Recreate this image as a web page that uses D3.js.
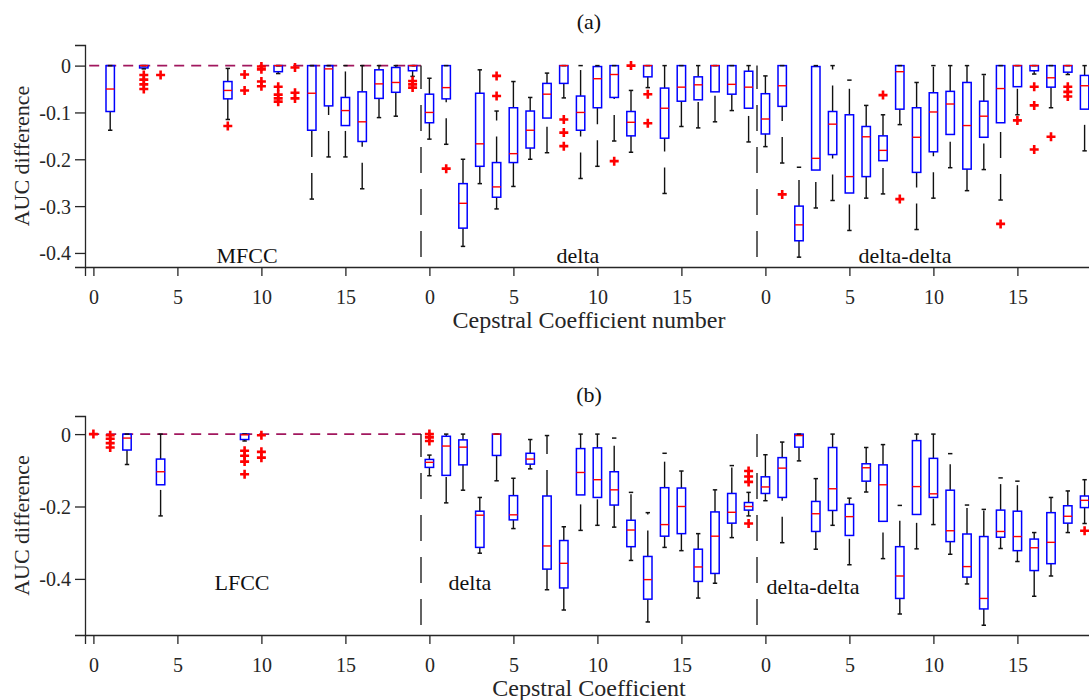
<!DOCTYPE html>
<html>
<head>
<meta charset="utf-8">
<script src="https://cdn.jsdelivr.net/npm/d3@7"></script>
<style>
  html, body { margin: 0; padding: 0; background: #fff; }
  svg { display: block; }
  text { font-family: "Liberation Serif", "Times New Roman", serif; }
</style>
</head>
<body>
<svg id="chart" width="1089" height="700"></svg>
<script>
// Per-coefficient AUC difference distributions: box plots for 3 x 20 cepstral coefficients
// (static, delta, delta-delta). null = distribution collapsed at zero.

const xTickValues = [0, 5, 10, 15, 20, 25, 30, 35, 40, 45, 50, 55];
const xTickLabels = ["0", "5", "10", "15", "0", "5", "10", "15", "0", "5", "10", "15"];
const groupBoundaries = [19.5, 39.5];

// ---- Panel (a): MFCC ----
const aTicksY = [0, -0.1, -0.2, -0.3, -0.4];
const aGroupNames = ["MFCC", "delta", "delta-delta"];
const aWhiskerHigh = [null, 0, null, 0, null, null, null, null, -0.006, null,
  null, 0, null, 0, 0, 0, 0, 0, 0, 0,
  -0.027, 0, -0.2, -0.009, -0.097, -0.034, -0.068, -0.016, 0, 0,
  0, 0, -0.053, 0, 0, 0, 0, 0, 0, 0,
  -0.022, 0, -0.217, 0, 0, -0.031, -0.085, -0.105, 0, -0.036,
  0, 0, 0, -0.019, 0, 0, 0, 0, 0, 0];
const aBoxTop = [null, 0, null, 0, null, null, null, null, -0.034, null,
  null, 0, null, 0, 0, -0.068, -0.056, -0.009, -0.004, 0,
  -0.061, 0, -0.252, -0.059, -0.207, -0.09, -0.097, -0.038, 0, -0.065,
  -0.002, 0, -0.098, 0, -0.048, 0, -0.024, 0, 0, -0.012,
  -0.06, 0, -0.3, -0.002, -0.098, -0.105, -0.13, -0.15, 0, -0.09,
  -0.058, -0.055, -0.036, -0.076, 0, 0, 0, 0, 0, -0.021];
const aMedian = [null, -0.05, null, 0, null, null, null, null, -0.053, null,
  null, 0, null, -0.059, -0.007, -0.096, -0.12, -0.039, -0.036, 0,
  -0.1, -0.047, -0.294, -0.167, -0.259, -0.188, -0.138, -0.061, 0, -0.1,
  -0.028, -0.019, -0.121, 0, -0.091, -0.046, -0.041, 0, -0.04, -0.046,
  -0.114, -0.043, -0.34, -0.198, -0.125, -0.237, -0.152, -0.181, -0.013, -0.153,
  -0.099, -0.082, -0.128, -0.108, -0.049, 0, 0, -0.026, 0, -0.043];
const aBoxBottom = [null, -0.098, null, -0.005, null, null, null, null, -0.071, null,
  null, -0.013, null, -0.138, -0.086, -0.128, -0.162, -0.07, -0.057, -0.011,
  -0.122, -0.071, -0.347, -0.215, -0.281, -0.207, -0.176, -0.112, -0.038, -0.138,
  -0.09, -0.068, -0.15, -0.024, -0.155, -0.076, -0.073, -0.056, -0.061, -0.091,
  -0.146, -0.087, -0.374, -0.223, -0.19, -0.272, -0.237, -0.203, -0.093, -0.228,
  -0.184, -0.147, -0.221, -0.153, -0.122, -0.045, -0.011, -0.046, -0.014, -0.093];
const aWhiskerLow = [null, -0.138, null, -0.007, null, null, null, null, -0.115, null,
  null, -0.017, null, -0.285, -0.195, -0.195, -0.263, -0.111, -0.108, -0.023,
  -0.157, -0.168, -0.386, -0.252, -0.306, -0.258, -0.2, -0.186, -0.069, -0.241,
  -0.215, -0.161, -0.185, -0.047, -0.273, -0.13, -0.133, -0.12, -0.096, -0.163,
  -0.173, -0.208, -0.409, -0.304, -0.288, -0.352, -0.283, -0.274, -0.126, -0.35,
  -0.283, -0.218, -0.267, -0.222, -0.287, -0.105, -0.018, -0.09, -0.019, -0.182];
const aOutliers = [
  [3, -0.02], [3, -0.03], [3, -0.04], [3, -0.05], [4, -0.02],
  [8, -0.129], [9, -0.019], [9, -0.053],
  [10, -0.002], [10, -0.008], [10, -0.034], [10, -0.044],
  [11, -0.045], [11, -0.062], [11, -0.07], [11, -0.077],
  [12, -0.004], [12, -0.058], [12, -0.07],
  [19, -0.033], [19, -0.04], [19, -0.047],
  [21, -0.22], [24, -0.022], [24, -0.065],
  [28, -0.115], [28, -0.143], [28, -0.172], [31, -0.204], [32, 0],
  [33, -0.061], [33, -0.123], [41, -0.275], [47, -0.063], [48, -0.285],
  [54, -0.338], [55, -0.117], [56, -0.045], [56, -0.085], [56, -0.179],
  [57, -0.152], [58, -0.045], [58, -0.056], [58, -0.066]];

// ---- Panel (b): LFCC ----
const bTicksY = [0, -0.2, -0.4];
const bGroupNames = ["LFCC", "delta", "delta-delta"];
const bWhiskerHigh = [null, null, 0, null, 0, null, null, null, null, 0,
  null, null, null, null, null, null, null, null, null, null,
  -0.058, 0, 0, -0.175, 0, -0.122, -0.015, -0.004, -0.256, 0,
  0, -0.011, -0.161, -0.217, -0.053, -0.102, -0.275, -0.154, -0.087, -0.161,
  -0.057, -0.022, 0, -0.123, 0, -0.177, -0.037, -0.029, -0.197, 0,
  0, -0.054, -0.196, -0.208, -0.121, -0.13, -0.272, -0.175, -0.157, -0.126];
const bBoxTop = [null, null, 0, null, -0.069, null, null, null, null, 0,
  null, null, null, null, null, null, null, null, null, null,
  -0.07, -0.006, -0.016, -0.213, 0, -0.17, -0.053, -0.171, -0.294, -0.04,
  -0.038, -0.104, -0.238, -0.338, -0.148, -0.149, -0.318, -0.215, -0.164, -0.189,
  -0.118, -0.065, 0, -0.186, -0.037, -0.194, -0.082, -0.085, -0.311, -0.018,
  -0.067, -0.155, -0.276, -0.283, -0.21, -0.213, -0.29, -0.217, -0.198, -0.171];
const bMedian = [null, null, -0.011, null, -0.104, null, null, null, null, -0.002,
  null, null, null, null, null, null, null, null, null, null,
  -0.078, -0.033, -0.036, -0.224, 0, -0.223, -0.069, -0.309, -0.357, -0.106,
  -0.126, -0.154, -0.265, -0.402, -0.25, -0.2, -0.367, -0.282, -0.216, -0.2,
  -0.146, -0.094, -0.004, -0.22, -0.151, -0.228, -0.093, -0.14, -0.392, -0.145,
  -0.165, -0.267, -0.366, -0.454, -0.269, -0.283, -0.314, -0.299, -0.227, -0.183];
const bBoxBottom = [null, null, -0.044, null, -0.14, null, null, null, null, -0.015,
  null, null, null, null, null, null, null, null, null, null,
  -0.092, -0.114, -0.085, -0.313, -0.059, -0.237, -0.083, -0.373, -0.425, -0.168,
  -0.175, -0.196, -0.311, -0.456, -0.282, -0.275, -0.407, -0.385, -0.246, -0.21,
  -0.164, -0.175, -0.036, -0.269, -0.211, -0.28, -0.13, -0.241, -0.454, -0.222,
  -0.175, -0.297, -0.395, -0.483, -0.285, -0.322, -0.377, -0.358, -0.246, -0.203];
const bWhiskerLow = [null, null, -0.084, null, -0.226, null, null, null, null, -0.019,
  null, null, null, null, null, null, null, null, null, null,
  -0.115, -0.19, -0.155, -0.329, -0.129, -0.261, -0.096, -0.43, -0.486, -0.266,
  -0.252, -0.257, -0.349, -0.519, -0.313, -0.322, -0.453, -0.412, -0.286, -0.226,
  -0.184, -0.3, -0.074, -0.318, -0.252, -0.361, -0.16, -0.344, -0.497, -0.317,
  -0.25, -0.332, -0.414, -0.528, -0.316, -0.352, -0.448, -0.392, -0.272, -0.247];
const bOutliers = [
  [0, 0], [1, -0.003], [1, -0.013], [1, -0.025], [1, -0.037],
  [9, -0.046], [9, -0.06], [9, -0.076], [9, -0.111],
  [10, -0.003], [10, -0.049], [10, -0.065],
  [20, 0], [20, -0.009], [20, -0.019],
  [39, -0.102], [39, -0.117], [39, -0.132], [39, -0.247],
  [59, -0.267]];

const panels = [
  { title: "(a)", xLabel: "Cepstral Coefficient number", top: 45, bottom: 267,
    yDomain: [-0.43, 0.044], yTicks: aTicksY, groups: aGroupNames,
    groupPos: [[247, 263], [578, 263], [905, 263]], titleY: 29, tickLabelY: 304, xLabelY: 328,
    hi: aWhiskerHigh, q3: aBoxTop, med: aMedian, q1: aBoxBottom, lo: aWhiskerLow, out: aOutliers },
  { title: "(b)", xLabel: "Cepstral Coefficient", top: 416, bottom: 635,
    yDomain: [-0.555, 0.05], yTicks: bTicksY, groups: bGroupNames,
    groupPos: [[242, 590], [470, 590], [813, 594]], titleY: 402, tickLabelY: 672, xLabelY: 696,
    hi: bWhiskerHigh, q3: bBoxTop, med: bMedian, q1: bBoxBottom, lo: bWhiskerLow, out: bOutliers }
];

const svg = d3.select("#chart");
const axisColor = "#262626";
const x = d3.scaleLinear().domain([-0.5, 59.5]).range([85, 1093]);
const boxHalf = x(0.25) - x(0);
const capHalf = 2.2;
const whiskerDash = "26,16";

panels.forEach(p => {
  const y = d3.scaleLinear().domain(p.yDomain).range([p.bottom, p.top]);
  const g = svg.append("g");
  const idx = d3.range(60).filter(i => p.q3[i] !== null);

  // zero reference line over the first group
  g.append("line")
    .attr("x1", x(-0.25)).attr("x2", x(19.5))
    .attr("y1", y(0)).attr("y2", y(0))
    .attr("stroke", "#a1175e").attr("stroke-width", 1.6)
    .attr("stroke-dasharray", "10,7");

  // dashed separators between coefficient groups
  groupBoundaries.forEach(b => {
    g.append("line")
      .attr("x1", x(b)).attr("x2", x(b))
      .attr("y1", p.bottom - 10).attr("y2", y(0))
      .attr("stroke", "#222").attr("stroke-width", 1.4)
      .attr("stroke-dasharray", whiskerDash);
  });

  // whiskers: upper from box top outward, lower from adjacent value to box bottom
  g.selectAll(".wh-up").data(idx).join("line")
    .attr("x1", i => x(i)).attr("x2", i => x(i))
    .attr("y1", i => y(p.q3[i])).attr("y2", i => y(p.hi[i]))
    .attr("stroke", "#111").attr("stroke-width", 1.4)
    .attr("stroke-dasharray", whiskerDash);
  g.selectAll(".wh-lo").data(idx).join("line")
    .attr("x1", i => x(i)).attr("x2", i => x(i))
    .attr("y1", i => y(p.lo[i])).attr("y2", i => y(p.q1[i]))
    .attr("stroke", "#111").attr("stroke-width", 1.4)
    .attr("stroke-dasharray", whiskerDash);

  // boxes
  g.selectAll(".box").data(idx).join("rect")
    .attr("x", i => x(i) - boxHalf)
    .attr("y", i => y(p.q3[i]))
    .attr("width", boxHalf * 2)
    .attr("height", i => Math.max(0.01, y(p.q1[i]) - y(p.q3[i])))
    .attr("fill", "none").attr("stroke", "#0000ff").attr("stroke-width", 1.5);

  // whisker caps
  ["hi", "lo"].forEach(k => {
    g.selectAll(".cap-" + k).data(idx).join("line")
      .attr("x1", i => x(i) - capHalf).attr("x2", i => x(i) + capHalf)
      .attr("y1", i => y(p[k][i])).attr("y2", i => y(p[k][i]))
      .attr("stroke", "#111").attr("stroke-width", 1.5);
  });

  // medians
  g.selectAll(".med").data(idx).join("line")
    .attr("x1", i => x(i) - boxHalf).attr("x2", i => x(i) + boxHalf)
    .attr("y1", i => y(p.med[i])).attr("y2", i => y(p.med[i]))
    .attr("stroke", "#ff0000").attr("stroke-width", 1.4);

  // outliers
  g.selectAll(".out").data(p.out).join("path")
    .attr("d", d => {
      const cx = x(d[0]), cy = y(d[1]), r = 4.5;
      return `M${cx - r},${cy}H${cx + r}M${cx},${cy - r}V${cy + r}`;
    })
    .attr("stroke", "#ff0000").attr("stroke-width", 2.6).attr("fill", "none");

  // axes
  const xAxis = g.append("g").attr("transform", `translate(0,${p.bottom})`)
    .call(d3.axisBottom(x).tickValues(xTickValues)
      .tickFormat((d, i) => xTickLabels[i]).tickSizeOuter(0).tickSize(9).tickPadding(14));
  const yAxis = g.append("g").attr("transform", `translate(85,0)`)
    .call(d3.axisLeft(y).tickValues(p.yTicks)
      .tickFormat(d => d === 0 ? "0" : d.toFixed(1)).tickSizeOuter(0).tickSize(10).tickPadding(4));
  [xAxis, yAxis].forEach(a => {
    a.select(".domain").attr("stroke", axisColor).attr("stroke-width", 1.3);
    a.selectAll(".tick line").attr("stroke", axisColor).attr("stroke-width", 1.3);
    a.selectAll(".tick text").attr("fill", axisColor)
      .style("font-family", "'Liberation Serif', serif").style("font-size", "20px");
  });
  yAxis.selectAll(".tick text").attr("dy", "0.35em");

  // group names inside the plot area
  p.groups.forEach((name, k) => {
    g.append("text").attr("x", p.groupPos[k][0]).attr("y", p.groupPos[k][1])
      .attr("text-anchor", "middle").attr("font-size", 22).attr("fill", "#111")
      .text(name);
  });

  // title and axis labels
  g.append("text").attr("x", 589).attr("y", p.titleY).attr("text-anchor", "middle")
    .attr("font-size", 22).attr("fill", "#111").text(p.title);
  g.append("text").attr("x", 589).attr("y", p.xLabelY).attr("text-anchor", "middle")
    .attr("font-size", 24).attr("fill", axisColor).text(p.xLabel);
  g.append("text")
    .attr("transform", `translate(29,${(p.top + p.bottom) / 2}) rotate(-90)`)
    .attr("text-anchor", "middle").attr("font-size", 22).attr("fill", axisColor)
    .text("AUC difference");
});
</script>
</body>
</html>
